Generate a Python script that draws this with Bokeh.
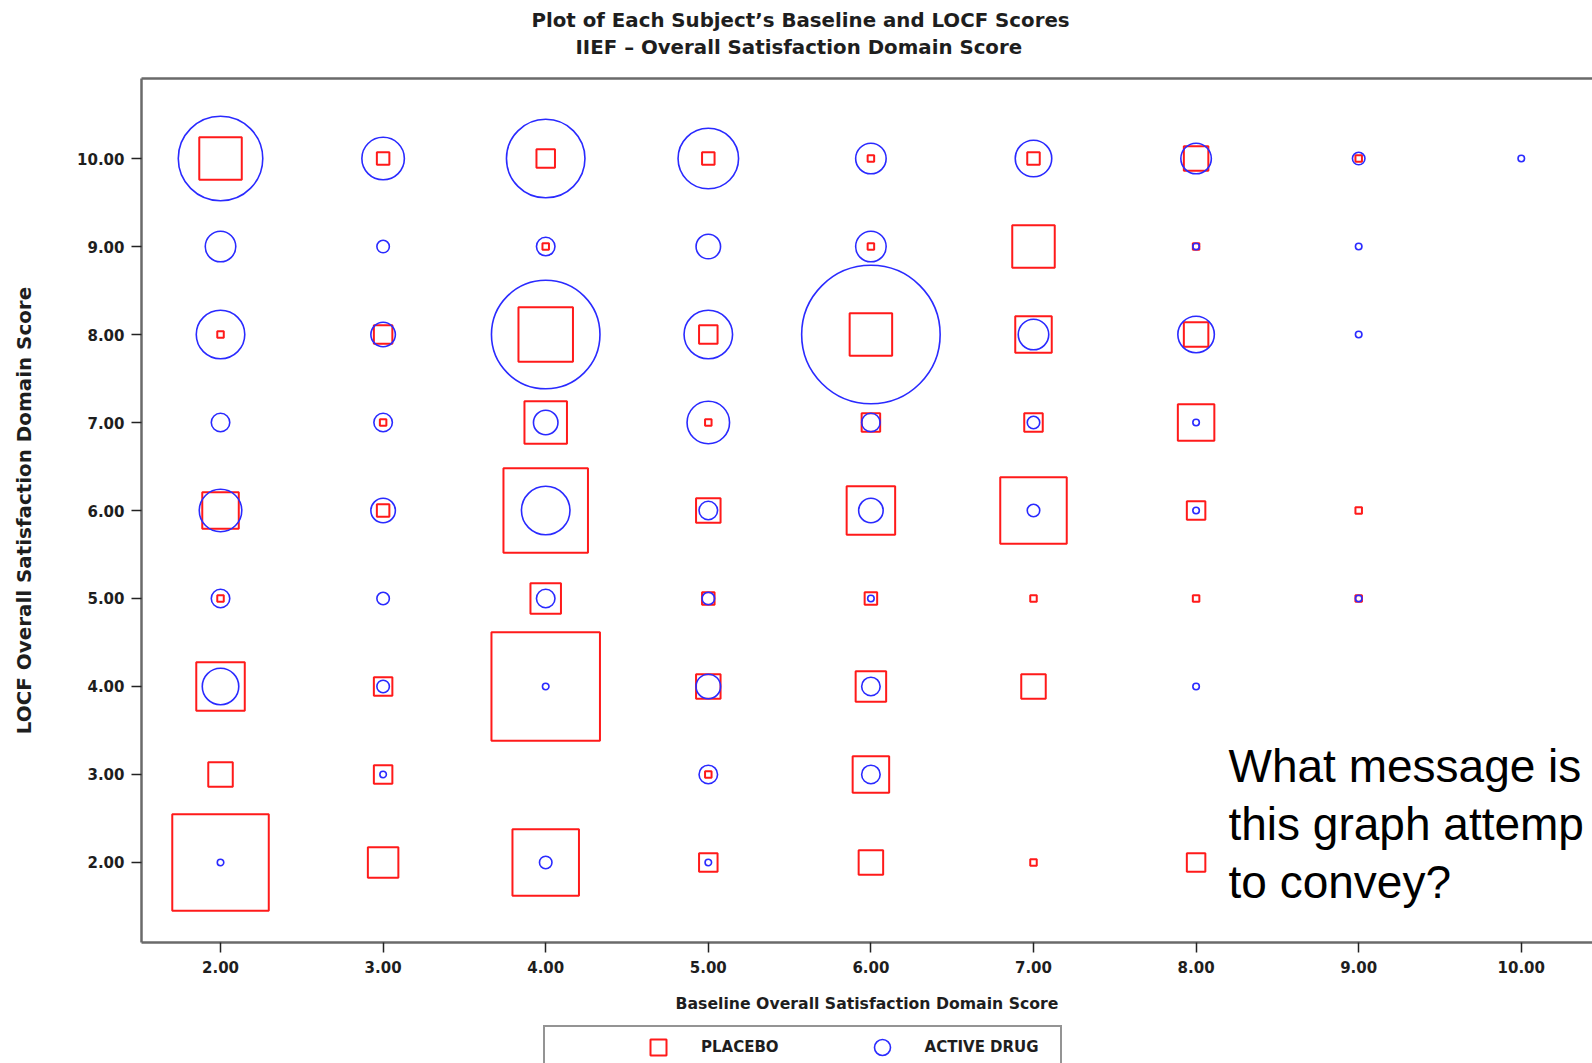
from bokeh.plotting import figure
from bokeh.layouts import column
from bokeh.models import (ColumnDataSource, FixedTicker, NumeralTickFormatter, LinearAxis,
                          Title, Label, Legend, LegendItem)
from bokeh.embed import file_html
from bokeh.resources import INLINE

# ---------------- data ----------------
tick_values = [2, 3, 4, 5, 6, 7, 8, 9, 10]

# PLACEBO: baseline score, LOCF score, number of subjects
placebo_x = [2, 3, 4, 5, 6, 7, 8, 9,
             4, 6, 7, 8,
             2, 3, 4, 5, 6, 7, 8,
             3, 4, 5, 6, 7, 8,
             2, 3, 4, 5, 6, 7, 8, 9,
             2, 4, 5, 6, 7, 8, 9,
             2, 3, 4, 5, 6, 7,
             2, 3, 5, 6,
             2, 3, 4, 5, 6, 7, 8]
placebo_y = [10, 10, 10, 10, 10, 10, 10, 10,
             9, 9, 9, 9,
             8, 8, 8, 8, 8, 8, 8,
             7, 7, 7, 7, 7, 7,
             6, 6, 6, 6, 6, 6, 6, 6,
             5, 5, 5, 5, 5, 5, 5,
             4, 4, 4, 4, 4, 4,
             3, 3, 3, 3,
             2, 2, 2, 2, 2, 2, 2]
placebo_n = [7, 2, 3, 2, 1, 2, 4, 1,
             1, 1, 7, 1,
             1, 3, 9, 3, 7, 6, 4,
             1, 7, 1, 3, 3, 6,
             6, 2, 14, 4, 8, 11, 3, 1,
             1, 5, 2, 2, 1, 1, 1,
             8, 3, 18, 4, 5, 4,
             4, 3, 1, 6,
             16, 5, 11, 3, 4, 1, 3]

# ACTIVE DRUG: baseline score, LOCF score, number of subjects
active_x = [2, 3, 4, 5, 6, 7, 8, 9, 10,
            2, 3, 4, 5, 6, 8, 9,
            2, 3, 4, 5, 6, 7, 8, 9,
            2, 3, 4, 5, 6, 7, 8,
            2, 3, 4, 5, 6, 7, 8,
            2, 3, 4, 5, 6, 9,
            2, 3, 4, 5, 6, 8,
            3, 5, 6,
            2, 4, 5]
active_y = [10, 10, 10, 10, 10, 10, 10, 10, 10,
            9, 9, 9, 9, 9, 9, 9,
            8, 8, 8, 8, 8, 8, 8, 8,
            7, 7, 7, 7, 7, 7, 7,
            6, 6, 6, 6, 6, 6, 6,
            5, 5, 5, 5, 5, 5,
            4, 4, 4, 4, 4, 4,
            3, 3, 3,
            2, 2, 2]
active_n = [14, 7, 13, 10, 5, 6, 5, 2, 1,
            5, 2, 3, 4, 5, 1, 1,
            8, 4, 18, 8, 23, 5, 6, 1,
            3, 3, 4, 7, 3, 2, 1,
            7, 4, 8, 3, 4, 2, 1,
            3, 2, 3, 2, 1, 1,
            6, 2, 1, 4, 3, 1,
            1, 3, 3,
            1, 2, 1]

group_labels = ["PLACEBO", "ACTIVE DRUG"]
title_lines = ["Plot of Each Subject\u2019s Baseline and LOCF Scores",
               "IIEF \u2013 Overall Satisfaction Domain Score"]
x_label = "Baseline Overall Satisfaction Domain Score"
y_label = "LOCF Overall Satisfaction Domain Score"
# the slide's overlaid question, as much of it as shows before the right edge
question_lines = ["What message is", "this graph attemp", "to convey?"]

# ---------------- styling ----------------
FONT = "DejaVu Sans"
TXT = "#1e1e1e"
AX = "#6a6a6a"
RED = "#ff1a1a"
BLUE = "#2a2aff"
NAN = float("nan")


def marker_size(n):
    return [6.0 * v + 0.5 for v in n]


src_p = ColumnDataSource(dict(x=placebo_x, y=placebo_y, n=placebo_n, s=marker_size(placebo_n)))
src_a = ColumnDataSource(dict(x=active_x, y=active_y, n=active_n, s=marker_size(active_n)))

p = figure(width=1592, height=1020, output_backend="svg", toolbar_location=None,
           x_range=(1.514, 10.438), y_range=(1.09, 10.91),
           min_border_left=141, min_border_right=0, min_border_top=78, min_border_bottom=78,
           background_fill_color="white", border_fill_color="white")

p.grid.visible = False
p.outline_line_color = None

xax = p.xaxis[0]
yax = p.yaxis[0]
for ax in (xax, yax):
    ax.ticker = FixedTicker(ticks=tick_values)
    ax.formatter = NumeralTickFormatter(format="0.00")
    ax.axis_line_color = AX
    ax.axis_line_width = 2.5
    ax.major_tick_line_color = "#222222"
    ax.major_tick_line_width = 1.5
    ax.major_tick_out = 10
    ax.major_tick_in = 0
    ax.minor_tick_line_color = None
    ax.major_label_text_font = FONT
    ax.major_label_text_font_style = "bold"
    ax.major_label_text_font_size = "15px"
    ax.major_label_text_color = TXT
    ax.axis_label_text_font = FONT
    ax.axis_label_text_font_style = "bold"
    ax.axis_label_text_color = TXT

xax.axis_label = x_label
xax.axis_label_text_font_size = "15.7px"
xax.major_label_standoff = 8
xax.axis_label_standoff = 18

yax.axis_label = y_label
yax.axis_label_text_font_size = "19.9px"
yax.major_label_standoff = 7
yax.axis_label_standoff = 38

# titles
p.title.text = title_lines[0]
p.title.align = "left"
p.title.offset = 390
p.title.text_font = FONT
p.title.text_font_style = "bold"
p.title.text_font_size = "19.8px"
p.title.text_color = TXT
p.title.standoff = 0

# top frame line (an axis without ticks or labels)
top_axis = LinearAxis(ticker=FixedTicker(ticks=[]),
                      major_label_standoff=0, major_tick_out=0, major_tick_in=0,
                      major_tick_line_color=None, minor_tick_line_color=None,
                      axis_line_color=AX, axis_line_width=2.5)
p.add_layout(top_axis, "above")

# blank gap between the frame and the second title line
gap = Title(text=".", text_font_size="1px", standoff=15, text_color="white")
p.add_layout(gap, "above")

t2 = Title(text=title_lines[1], align="left", offset=434, text_font=FONT,
           text_font_style="bold", text_font_size="19.8px", text_color=TXT, standoff=4)
p.add_layout(t2, "above")

r_sq = p.scatter(x="x", y="y", size="s", source=src_p, marker="square",
                 fill_color=None, line_color=RED, line_width=2)
r_ci = p.scatter(x="x", y="y", size="s", source=src_a, marker="circle",
                 fill_color=None, line_color=BLUE, line_width=1.6)

for i, line in enumerate(question_lines):
    p.add_layout(Label(x=1087, y=176.7 - 58.3 * i, x_units="screen", y_units="screen",
                       text=line, text_font="Liberation Sans", text_font_size="46px",
                       text_color="black", text_baseline="alphabetic"))

# ---------------- legend strip under the chart ----------------
leg = figure(width=1592, height=43, output_backend="svg", toolbar_location=None,
             min_border=0, x_axis_location=None, y_axis_location=None,
             background_fill_color="white", border_fill_color="white")
leg.grid.visible = False
leg.outline_line_color = None
# legend-key renderers (no visible data of their own)
k_sq = leg.scatter(x=[NAN], y=[NAN], marker="square", fill_color=None, line_color=RED, line_width=2)
k_ci = leg.scatter(x=[NAN], y=[NAN], marker="circle", fill_color=None, line_color=BLUE, line_width=1.6)

legend = Legend(items=[LegendItem(label=group_labels[0], renderers=[k_sq]),
                       LegendItem(label=group_labels[1], renderers=[k_ci])],
                location=(402, -26), orientation="horizontal",
                padding=dict(left=93, right=21, top=0, bottom=20),
                glyph_width=40, glyph_height=40, label_standoff=23,
                spacing=83, margin=0,
                border_line_color="#2a2a2a", border_line_width=2.5,
                background_fill_color="white", background_fill_alpha=1.0,
                label_text_font=FONT, label_text_font_style="bold",
                label_text_font_size="15px", label_text_color=TXT)
leg.add_layout(legend)

layout = column(p, leg, spacing=0)
open("out.html", "w").write(file_html(layout, INLINE))
